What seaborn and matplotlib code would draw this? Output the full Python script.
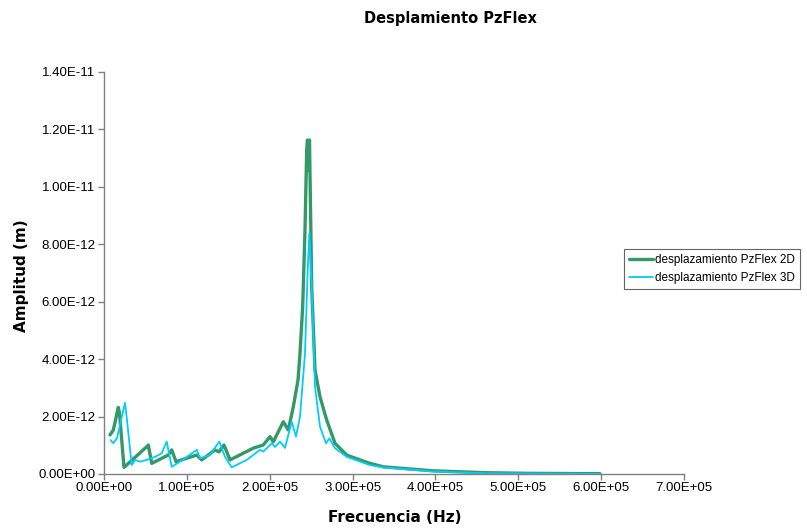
import matplotlib
matplotlib.use("Agg")
import matplotlib.pyplot as plt
import seaborn as sns
import pandas as pd
from matplotlib.ticker import FuncFormatter, MultipleLocator

freq_2d = [7240, 11220, 17260, 18700, 24140, 31380, 51530, 53470, 57570, 77600, 81700, 86900,
           111880, 117910, 133960, 138800, 144830, 152070, 180190, 192260, 200350, 204330,
           216400, 222430, 228460, 234140, 236550, 239800, 242580, 244640, 245600, 246800,
           248000, 250670, 254650, 260680, 268770, 278790, 292910, 308960, 321030, 337080,
           397430, 461880, 510160, 598620]
amp_2d = [1.36, 1.53, 2.32, 2.12, 0.23, 0.42, 0.95, 1.01, 0.37, 0.66, 0.84, 0.43,
          0.66, 0.49, 0.84, 0.77, 1.01, 0.49, 0.90, 1.01, 1.30, 1.12,
          1.82, 1.53, 2.34, 3.27, 4.20, 5.83, 8.50, 11.29, 11.63, 10.59,
          11.63, 6.52, 3.62, 2.69, 1.88, 1.07, 0.66, 0.49, 0.37, 0.25,
          0.11, 0.045, 0.024, 0.01]

freq_3d = [8090, 11220, 15690, 25340, 27760, 33430, 37410, 43450, 51530, 61550, 69630, 75670,
           81700, 91720, 111880, 115860, 127930, 139150, 146030, 154120, 172220, 188270,
           192260, 202400, 206380, 212420, 218450, 226530, 231720, 236550, 242580, 245840,
           247770, 250670, 254650, 260680, 267930, 271910, 278790, 292910, 321030, 336700,
           397000, 461880, 598620]
amp_3d = [1.18, 1.07, 1.25, 2.48, 1.88, 0.31, 0.49, 0.43, 0.49, 0.60, 0.72, 1.13,
          0.25, 0.43, 0.84, 0.55, 0.66, 1.13, 0.60, 0.23, 0.49, 0.84,
          0.78, 1.07, 0.94, 1.13, 0.91, 1.82, 1.30, 2.00, 4.20, 7.11,
          8.38, 6.52, 3.04, 1.65, 1.07, 1.24, 0.90, 0.60, 0.31, 0.23,
          0.09, 0.024, 0.005]

label_2d = "desplazamiento PzFlex 2D"
label_3d = "desplazamiento PzFlex 3D"

df2 = pd.DataFrame({"f": freq_2d, "a": [v * 1e-12 for v in amp_2d]})
df3 = pd.DataFrame({"f": freq_3d, "a": [v * 1e-12 for v in amp_3d]})

sns.set_style("white")
plt.rcParams["font.family"] = ["Liberation Sans", "DejaVu Sans"]
plt.rcParams["text.color"] = "black"

fig = plt.figure(figsize=(8.07, 5.31), dpi=100)
ax = fig.add_axes([104 / 807, 57 / 531, 580 / 807, 402 / 531])

green = "#339966"
cyan = "#00CCFF"
sns.lineplot(data=df2, x="f", y="a", ax=ax, color=green, linewidth=2.4, sort=False,
             label=label_2d, estimator=None)
sns.lineplot(data=df3, x="f", y="a", ax=ax, color=cyan, linewidth=1.3, sort=False,
             label=label_3d, estimator=None)

ax.set_xlim(0, 7e5)
ax.set_ylim(0, 1.4e-11)
ax.xaxis.set_major_locator(MultipleLocator(1e5))
ax.yaxis.set_major_locator(MultipleLocator(2e-12))

def sci(v, pos):
    s = "%.2E" % v
    mant, exp = s.split("E")
    sign = exp[0]
    num = int(exp[1:])
    return "%sE%s%02d" % (mant, sign, num)

ax.xaxis.set_major_formatter(FuncFormatter(sci))
ax.yaxis.set_major_formatter(FuncFormatter(sci))
ax.xaxis.get_offset_text().set_visible(False)
ax.yaxis.get_offset_text().set_visible(False)

for side in ["top", "right"]:
    ax.spines[side].set_visible(False)
for side in ["left", "bottom"]:
    ax.spines[side].set_color("#808080")
    ax.spines[side].set_linewidth(1.0)
ax.tick_params(axis="both", direction="out", length=4, width=1, color="#808080",
               labelsize=9.5, labelcolor="black", pad=2, left=True, bottom=True)

ax.set_xlabel("")
ax.set_ylabel("")
ax.xaxis.label.set_visible(False)
ax.yaxis.label.set_visible(False)
bold_family = ["DejaVu Sans"]
fig.text(395 / 807, 1 - 518 / 531, "Frecuencia (Hz)", ha="center", va="center",
         fontsize=11, fontweight="bold", family=bold_family, color="black")
fig.text(22 / 807, 1 - 276 / 531, "Amplitud (m)", ha="center", va="center",
         fontsize=11, fontweight="bold", rotation=90, family=bold_family, color="black")
fig.text(450 / 807, 1 - 18 / 531, "Desplamiento PzFlex", ha="center", va="center",
         fontsize=10.5, fontweight="bold", family=bold_family, color="black")

ax.legend_.remove()
h, l = ax.get_legend_handles_labels()
leg = fig.legend(h, l, loc="center left", bbox_to_anchor=(624 / 807, 1 - 269 / 531),
                 fontsize=8.5, frameon=True, fancybox=False, handlelength=2.0,
                 borderpad=0.45, labelspacing=0.5, handletextpad=0.2, borderaxespad=0)
leg.get_frame().set_edgecolor("#404040")
leg.get_frame().set_linewidth(0.8)

fig.savefig("out.png", dpi=100)
